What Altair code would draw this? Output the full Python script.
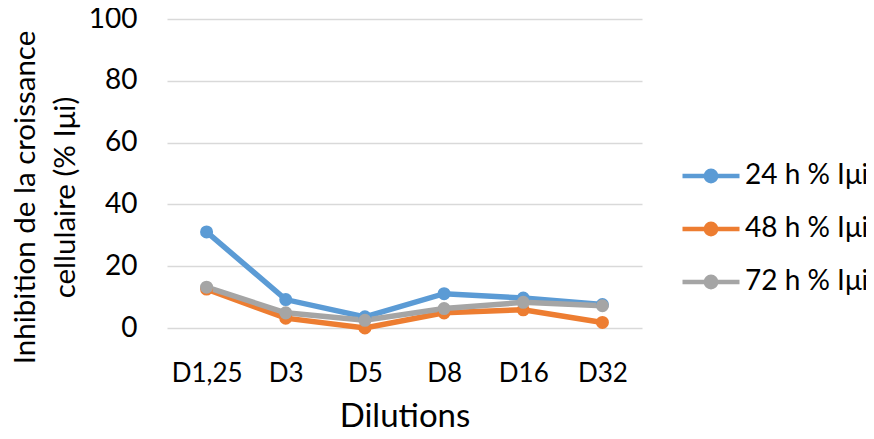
import altair as alt
import pandas as pd

categories = ["D1,25", "D3", "D5", "D8", "D16", "D32"]
series_names = ["24 h % Iμi", "48 h % Iμi", "72 h % Iμi"]
s24 = [31.1, 9.2, 3.6, 11.1, 9.7, 7.6]
s48 = [12.6, 3.2, 0.0, 4.9, 5.9, 1.8]
s72 = [13.2, 4.9, 2.5, 6.3, 8.3, 7.2]
colors = ["#5B9BD5", "#ED7D31", "#A5A5A5"]
y_ticks = [0, 20, 40, 60, 80, 100]

rows = []
for name, vals in zip(series_names, [s24, s48, s72]):
    for c, v in zip(categories, vals):
        rows.append({"Dilution": c, "Serie": name, "Valeur": v})
df = pd.DataFrame(rows)

FONT = "Lato"
legend_path = "M-1,0L1,0M0.18,0A0.18,0.18,0,1,1,-0.18,0A0.18,0.18,0,1,1,0.18,0"

x_enc = alt.X(
    "Dilution:N",
    sort=categories,
    axis=alt.Axis(
        title="Dilutions",
        labelAngle=0,
        labelFontSize=26,
        labelBaseline="alphabetic",
        labelPadding=53,
        ticks=False,
        tickSize=0,
        domain=False,
        grid=False,
        titleFontSize=33,
        titleFontWeight="normal",
        titleBaseline="alphabetic",
        titleY=98,
        labelColor="#000",
        titleColor="#000",
    ),
)
y_enc = alt.Y(
    "Valeur:Q",
    scale=alt.Scale(domain=[0, 100], nice=False),
    axis=alt.Axis(
        values=y_ticks,
        title=["Inhibition de la croissance", "cellulaire (% Iμi)"],
        labelFontSize=28,
        labelPadding=30,
        ticks=False,
        tickSize=0,
        domain=False,
        grid=True,
        gridColor="#D9D9D9",
        gridWidth=1.5,
        titleFontSize=29.5,
        titleFontWeight="normal",
        titleX=-127,
        titleY=178,
        titleLineHeight=40,
        titleAlign="center",
        labelColor="#000",
        titleColor="#000",
    ),
)
legend = alt.Legend(
    title=None,
    orient="none",
    legendX=513,
    legendY=126,
    symbolType=legend_path,
    symbolSize=3249,
    symbolStrokeWidth=4.5,
    labelFontSize=28,
    labelColor="#000",
    labelOffset=3,
    labelLimit=400,
    rowPadding=7,
    padding=0,
)
color_enc = alt.Color(
    "Serie:N",
    scale=alt.Scale(domain=series_names, range=colors),
    legend=legend,
)

lines = alt.Chart(df).mark_line(strokeWidth=5.5).encode(x=x_enc, y=y_enc, color=color_enc)
points = alt.Chart(df).mark_point(filled=True, size=170, opacity=1).encode(
    x=x_enc, y=y_enc, color=color_enc
)

chart = (
    alt.layer(lines, points)
    .properties(
        width=475,
        height=309,
        padding={"left": 159, "top": 11, "right": 224, "bottom": 103},
        autosize=alt.AutoSizeParams(type="none"),
    )
    .configure(font=FONT)
    .configure_view(stroke=None)
)

chart.save("out.html", embed_options={"renderer": "svg", "actions": False})
